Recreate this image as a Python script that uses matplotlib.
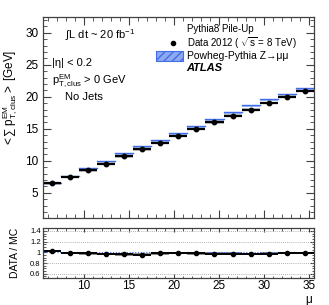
import matplotlib.pyplot as plt
import numpy as np
from matplotlib.ticker import MultipleLocator

plt.rcParams['font.family'] = ['Liberation Sans', 'DejaVu Sans']
plt.rcParams['mathtext.fontset'] = "custom"
plt.rcParams['mathtext.rm'] = "Liberation Sans"
plt.rcParams['mathtext.it'] = "Liberation Sans:italic"

mu = [6.5, 8.5, 10.5, 12.5, 14.5, 16.5, 18.5, 20.5, 22.5, 24.5, 26.5, 28.5, 30.5, 32.5, 34.5]
data = [6.47, 7.45, 8.5, 9.55, 10.7, 11.8, 12.8, 13.9, 14.95, 16.0, 17.05, 18.0, 19.0, 20.0, 20.9]
mc = [6.35, 7.5, 8.65, 9.85, 11.05, 12.2, 13.1, 14.1, 15.2, 16.35, 17.45, 18.55, 19.5, 20.3, 21.15]
ratio = [1.024, 0.99, 0.98, 0.97, 0.96, 0.955, 0.98, 0.99, 0.98, 0.975, 0.975, 0.97, 0.975, 0.985, 0.985]
half = 1.0

fig = plt.figure(figsize=(3.29, 3.05), dpi=100)
ax = fig.add_axes((0.132, 0.285, 0.821, 0.659))
rx = fig.add_axes((0.132, 0.0885, 0.821, 0.163))

edge = "#404040"
for a in (ax, rx):
    for s in a.spines.values():
        s.set_color(edge)
        s.set_linewidth(0.9)
    a.tick_params(which="both", direction="in", top=True, right=True, color=edge)
    a.tick_params(which="major", length=6, width=0.8)
    a.tick_params(which="minor", length=3, width=0.6)
    a.set_xlim(5.5, 35.5)
    a.xaxis.set_major_locator(MultipleLocator(5))
    a.xaxis.set_minor_locator(MultipleLocator(1))

# main panel
for x, d, m in zip(mu, data, mc):
    ax.fill_between([x - half, x + half], m - 0.17, m + 0.17, color="#a8bdf5", lw=0)
    ax.plot([x - half, x + half], [m + 0.17, m + 0.17], color="#3f6ee8", lw=1.0)
    ax.fill_between([x - half, x + half], d - 0.2, d + 0.2, color="#c8c8c8", lw=0)
ax.errorbar(mu, data, xerr=half, fmt="o", color="black", ms=3.2, elinewidth=1.6, capsize=0)

ax.set_ylim(1.05, 32.45)
ax.yaxis.set_major_locator(MultipleLocator(5))
ax.yaxis.set_minor_locator(MultipleLocator(1))
ax.tick_params(labelbottom=False, labelsize=8.5)
ax.set_ylabel(r"$<\!\sum\ \mathrm{p}^{\mathrm{EM}}_{\mathrm{T,clus}}>$ [GeV]", fontsize=8.5)
ax.yaxis.set_label_coords(-0.085, 0.6)

ax.text(0.08, 0.95, r"$\int$L dt ~ 20 fb$^{-1}$", transform=ax.transAxes, fontsize=8, va="top")
ax.text(0.03, 0.77, "|η| < 0.2", transform=ax.transAxes, fontsize=8, va="center")
ax.text(0.03, 0.68, r"p$^{\mathrm{EM}}_{\mathrm{T,clus}}$ > 0 GeV", transform=ax.transAxes, fontsize=8, va="center")
ax.text(0.08, 0.6, "No Jets", transform=ax.transAxes, fontsize=8, va="center")

ax.text(0.53, 0.94, "Pythia8 Pile-Up", transform=ax.transAxes, fontsize=7, va="center")
ax.plot([0.48], [0.87], "o", color="black", ms=3, transform=ax.transAxes, clip_on=False)
ax.text(0.53, 0.87, r"Data 2012 ( $\sqrt{\mathrm{s}}$ = 8 TeV)", transform=ax.transAxes, fontsize=7, va="center")
ax.add_patch(plt.Rectangle((0.415, 0.78), 0.1, 0.05, transform=ax.transAxes,
                           facecolor="#8fa9f0", edgecolor="#3f6ee8", hatch="////", lw=0.8))
ax.text(0.53, 0.805, "Powheg-Pythia Z→μμ", transform=ax.transAxes, fontsize=7.5, va="center")
ax.text(0.53, 0.745, "ATLAS", transform=ax.transAxes, fontsize=8, va="center",
        fontweight="bold", fontstyle="italic")

# ratio panel
for yv in (0.6, 0.8, 1.2, 1.4):
    rx.axhline(yv, color="#999999", ls=(0, (1, 1.5)), lw=0.6)
rx.axhline(1.0, color="#3f6ee8", ls=(0, (1, 1.5)), lw=0.8)
for x, r in zip(mu, ratio):
    rx.fill_between([x - half, x + half], r - 0.025, r + 0.025, color="#888888", lw=0)
rx.errorbar(mu, ratio, xerr=half, fmt="o", color="black", ms=3, elinewidth=1.4, capsize=0)
rx.set_ylim(0.52, 1.45)
rx.set_yticks([0.6, 0.8, 1.0, 1.2, 1.4])
rx.set_yticklabels(["0.6", "0.8", "1", "1.2", "1.4"])
rx.yaxis.set_minor_locator(MultipleLocator(0.05))
rx.tick_params(axis="y", labelsize=5.5, pad=2)
rx.tick_params(axis="x", labelsize=8.5, pad=1.5)
rx.tick_params(which="major", length=3)
rx.tick_params(which="minor", length=1.8)
rx.set_ylabel("DATA / MC", fontsize=7.5)
rx.yaxis.set_label_coords(-0.085, 0.5)
rx.set_xlabel("μ", fontsize=8.5)
rx.xaxis.set_label_coords(0.98, -0.33)

fig.savefig("out.png", dpi=100)
